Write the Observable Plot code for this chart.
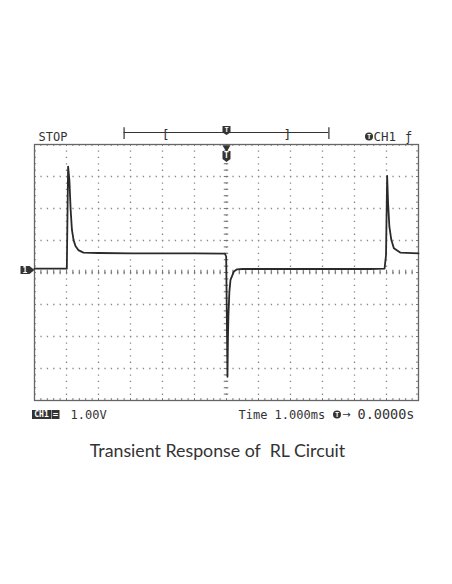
<!DOCTYPE html>
<html>
<head>
<meta charset="utf-8">
<script src="https://cdn.jsdelivr.net/npm/d3@7"></script>
<script src="https://cdn.jsdelivr.net/npm/@observablehq/plot@0.6"></script>
<style>
  html, body { margin: 0; padding: 0; background: #fff; }
  body { width: 452px; height: 584px; position: relative; overflow: hidden; }
  #chart { position: absolute; left: 0; top: 0; }
  #caption { position: absolute; left: 0; top: 440px; width: 435px; text-align: center;
             font-family: Lato, "Open Sans", sans-serif; font-size: 17.8px; line-height: 20px;
             color: #333; white-space: pre; }
</style>
</head>
<body>
<div id="chart"></div>
<div id="caption"></div>
<script>
// ---- data (time in ms, CH1 in volts) ----
const traceTimeMs = [-6, -5.4, -4.99, -4.95, -4.91, -4.87, -4.83, -4.78, -4.72, -4.63, -4.47, -4.0, -3.0, -2.0, -1.0, -0.05, -0.01, 0.03, 0.045, 0.06, 0.09, 0.125, 0.23, 0.33, 0.5, 1.5, 2.5, 3.5, 4.5, 4.94, 4.985, 5.02, 5.05, 5.09, 5.15, 5.23, 5.44, 6.0];
const traceVolts  = [0.12, 0.12, 0.12, 3.31, 2.89, 1.95, 1.33, 1.02, 0.83, 0.70, 0.62, 0.61, 0.60, 0.60, 0.60, 0.59, 0.50, -3.26, -2.05, -1.36, -0.60, -0.23, 0.03, 0.10, 0.11, 0.11, 0.11, 0.11, 0.11, 0.12, 0.54, 3.02, 2.16, 1.43, 1.02, 0.76, 0.62, 0.60];

const timeDomainMs = [-6, 6];      // 12 divisions of 1.000 ms
const voltDomain = [-4, 4];        // 8 divisions of 1.00 V
const ch1GroundV = 0.08;
const memoryBarMs = [-3.2, 3.2];
const viewBracketsMs = [-1.9, 1.9];
const triggerTimeMs = [0];

const statusLeftLabel = "STOP";
const channelLabel = "CH1";
const slopeLabel = "ƒ";
const groundLabel = "1";
const voltsPerDivLabel = "1.00V";
const timePerDivLabel = "Time 1.000ms";
const triggerArrowLabel = "→";
const triggerPosLabel = "0.0000s";
const captionText = "Transient Response of  RL Circuit";

// ---- drawing ----
const [tMin, tMax] = timeDomainMs;
const [vMin, vMax] = voltDomain;
const majorT = d3.range(tMin + 1, tMax, 1);
const majorV = d3.range(vMin + 1, vMax, 1);
const minorT = d3.range(tMin + 0.2, tMax - 0.1, 0.2);
const minorV = d3.range(vMin + 0.2, vMax - 0.1, 0.2);
const trace = traceTimeMs.map((t, i) => ({t, v: traceVolts[i]}));

const ink = "#333";
const gridInk = "#888";
const mono = "DejaVu Sans Mono, Liberation Mono, monospace";

function shield(w, h, tip) {
  return {draw(ctx) {
    ctx.moveTo(-w / 2, -h / 2); ctx.lineTo(w / 2, -h / 2); ctx.lineTo(w / 2, h / 2 - tip);
    ctx.lineTo(0, h / 2); ctx.lineTo(-w / 2, h / 2 - tip); ctx.closePath();
  }};
}
function box(w, h) { return {draw(ctx) { ctx.rect(-w / 2, -h / 2, w, h); }}; }
const groundTag = {draw(ctx) {
  ctx.moveTo(-14, -4); ctx.lineTo(-5, -4); ctx.lineTo(0, 0); ctx.lineTo(-5, 4); ctx.lineTo(-14, 4); ctx.closePath();
}};

const chart = Plot.plot({
  width: 452,
  height: 430,
  marginLeft: 34,
  marginRight: 34,
  marginTop: 144,
  marginBottom: 30,
  x: {domain: timeDomainMs, axis: null},
  y: {domain: voltDomain, axis: null},
  style: {background: "#fff", overflow: "visible"},
  marks: [
    // graticule
    Plot.ruleX(majorT, {stroke: gridInk, strokeWidth: 1.3, strokeDasharray: "1.3,5.1"}),
    Plot.ruleY(majorV, {stroke: gridInk, strokeWidth: 1.3, strokeDasharray: "1.3,5.1"}),
    Plot.ruleX(minorT, {y1: -0.07, y2: 0.07, stroke: "#777", strokeWidth: 1.1}),
    Plot.ruleY(minorV, {x1: -0.07, x2: 0.07, stroke: "#777", strokeWidth: 1.1}),
    Plot.ruleX(minorT, {y1: vMax, y2: vMax - 0.06, stroke: "#777"}),
    Plot.ruleX(minorT, {y1: vMin, y2: vMin + 0.06, stroke: "#777"}),
    Plot.ruleY(minorV, {x1: tMin, x2: tMin + 0.06, stroke: "#777"}),
    Plot.ruleY(minorV, {x1: tMax, x2: tMax - 0.06, stroke: "#777"}),
    Plot.frame({stroke: "#666", strokeWidth: 1.3}),
    // trace
    Plot.line(trace, {x: "t", y: "v", stroke: "#2a2a2a", strokeWidth: 1.8, strokeLinejoin: "round"}),
    // trigger marker inside top of frame
    Plot.dot(triggerTimeMs, {x: d => d, y: vMax, dy: 3, symbol: "triangle", rotate: 180, r: 3, fill: ink}),
    Plot.dot(triggerTimeMs, {x: d => d, y: vMax, dy: 12, symbol: shield(8, 11, 3), fill: ink}),
    Plot.text(["T"], {x: triggerTimeMs, y: vMax, dy: 11, fill: "#fff", fontSize: 8, fontWeight: "bold", fontFamily: mono}),
    // ground marker
    Plot.dot([ch1GroundV], {x: tMin, y: d => d, symbol: groundTag, fill: ink}),
    Plot.text([groundLabel], {x: tMin, y: ch1GroundV, dx: -9.5, fill: "#fff", fontSize: 8, fontWeight: "bold", fontFamily: mono}),
    // status line on top
    Plot.text([statusLeftLabel], {x: tMin, y: vMax, text: d => d, dx: 4, dy: -4, textAnchor: "start", lineAnchor: "bottom", fontFamily: mono, fontSize: 12, fill: ink}),
    Plot.ruleY([vMax], {x1: memoryBarMs[0], x2: memoryBarMs[1], dy: -12, stroke: ink, strokeWidth: 1.2}),
    Plot.ruleX(memoryBarMs, {y1: vMax + 0.16, y2: vMax + 0.52, stroke: ink, strokeWidth: 1.2}),
    Plot.text(["[", "]"], {x: viewBracketsMs, y: vMax, text: d => d, dy: -10, fontFamily: mono, fontSize: 13, fill: ink}),
    Plot.dot(triggerTimeMs, {x: d => d, y: vMax, dy: -14, symbol: shield(8, 9, 2.5), fill: ink}),
    Plot.text(["T"], {x: triggerTimeMs, y: vMax, dy: -14.5, fill: "#fff", fontSize: 7, fontWeight: "bold", fontFamily: mono}),
    Plot.dot([0], {x: tMax, y: vMax, dx: -49.5, dy: -8, r: 4, fill: ink}),
    Plot.text(["T"], {x: tMax, y: vMax, dx: -49.5, dy: -8, fill: "#fff", fontSize: 7, fontWeight: "bold", fontFamily: mono}),
    Plot.text([channelLabel], {x: tMax, y: vMax, text: d => d, dx: -45, dy: -4, textAnchor: "start", lineAnchor: "bottom", fontFamily: mono, fontSize: 12.5, fill: ink}),
    Plot.text([slopeLabel], {x: tMax, y: vMax, text: d => d, dx: -10, dy: -4, lineAnchor: "bottom", fontFamily: mono, fontSize: 12, fill: ink}),
    // bottom status line
    Plot.dot([0], {x: tMin, y: vMin, dx: 7, dy: 14, symbol: box(19, 9), fill: ink}),
    Plot.text([channelLabel], {x: tMin, y: vMin, text: d => d, dx: 7, dy: 14, fill: "#fff", fontSize: 8, fontWeight: "bold", fontFamily: mono}),
    Plot.dot([0], {x: tMin, y: vMin, dx: 21, dy: 14, symbol: box(8, 9), fill: ink}),
    Plot.text(["="], {x: tMin, y: vMin, dx: 21, dy: 14, fill: "#fff", fontSize: 9, fontWeight: "bold", fontFamily: mono}),
    Plot.text([voltsPerDivLabel], {x: tMin, y: vMin, text: d => d, dx: 36, dy: 18, textAnchor: "start", lineAnchor: "bottom", fontFamily: mono, fontSize: 12, fill: ink}),
    Plot.text([timePerDivLabel], {x: 0, y: vMin, text: d => d, dx: 12, dy: 18, textAnchor: "start", lineAnchor: "bottom", fontFamily: mono, fontSize: 12, fill: ink}),
    Plot.dot([0], {x: tMax, y: vMin, dx: -81.5, dy: 14, r: 4, fill: ink}),
    Plot.text(["T"], {x: tMax, y: vMin, dx: -81.5, dy: 14, fill: "#fff", fontSize: 7, fontWeight: "bold", fontFamily: mono}),
    Plot.text([triggerArrowLabel], {x: tMax, y: vMin, text: d => d, dx: -72, dy: 14, fontFamily: "DejaVu Sans, sans-serif", fontSize: 10, fill: ink}),
    Plot.text([triggerPosLabel], {x: tMax, y: vMin, text: d => d, dx: -4, dy: 18, textAnchor: "end", lineAnchor: "bottom", fontFamily: mono, fontSize: 13.5, fill: ink})
  ]
});
document.getElementById("chart").append(chart);
document.getElementById("caption").textContent = captionText;
</script>
</body>
</html>
